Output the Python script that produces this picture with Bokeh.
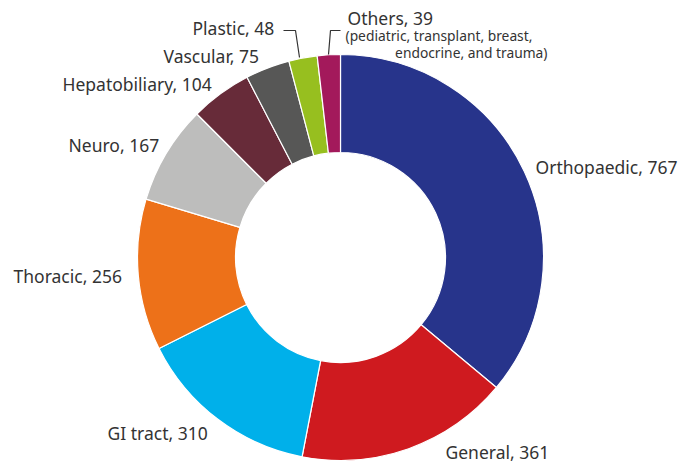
import numpy as np
from bokeh.plotting import figure
from bokeh.models import Range1d, ColumnDataSource
from bokeh.core.properties import value
from bokeh.embed import file_html
from bokeh.resources import INLINE

categories = ["Orthopaedic", "General", "GI tract", "Thoracic", "Neuro",
              "Hepatobiliary", "Vascular", "Plastic", "Others"]
counts = [767, 361, 310, 256, 167, 104, 75, 48, 39]
colors = ["#27348b", "#cf1a1f", "#00b0ea", "#ed7119", "#bdbdbc",
          "#672b39", "#575756", "#97bf1f", "#a3195b"]

W, H = 682, 463
p = figure(width=W, height=H, output_backend="svg", toolbar_location=None,
           x_range=Range1d(0, W), y_range=Range1d(0, H),
           min_border=0)
p.axis.visible = False
p.grid.visible = False
p.outline_line_color = None
p.background_fill_color = "white"
p.border_fill_color = "white"

def Y(py):
    return H - py

total = float(sum(counts))
cum = np.cumsum([0] + counts)
start = np.pi / 2 - 2 * np.pi * cum[:-1] / total
end = np.pi / 2 - 2 * np.pi * cum[1:] / total

src = ColumnDataSource(dict(cat=categories, val=counts, color=colors,
                            start=start, end=end))
cx, cy = 340, Y(257)
p.annular_wedge(x=cx, y=cy, inner_radius=105, outer_radius=203,
                start_angle="start", end_angle="end", direction="clock",
                fill_color="color", line_color="white", line_width=1.2,
                source=src)

font = value("Noto Sans")
tc = "#333333"
labels = [f"{c}, {v}" for c, v in zip(categories, counts)]
pos = [(535, 166, "left"), (445, 451, "left"), (107, 432, "left"),
       (13, 275, "left"), (68, 144, "left"), (62, 83, "left"),
       (163, 55, "left"), (192, 27, "left"), (347, 17, "left")]
for lab, (x, y, al) in zip(labels, pos):
    p.text(x=[x], y=[Y(y)], text=[lab], text_font=font, text_font_size="17.5px",
           text_color=tc, text_align=al, text_baseline="middle")

p.text(x=[345], y=[Y(35)], text=["(pediatric, transplant, breast,"],
       text_font=font, text_font_size="13.8px", text_color=tc,
       text_align="left", text_baseline="middle")
p.text(x=[547], y=[Y(52)], text=["endocrine, and trauma)"],
       text_font=font, text_font_size="13.8px", text_color=tc,
       text_align="right", text_baseline="middle")

p.line(x=[283, 295, 299], y=[Y(30), Y(30), Y(57)], line_color="#333333", line_width=1.2)
p.line(x=[340, 330, 328], y=[Y(30), Y(30), Y(54)], line_color="#333333", line_width=1.2)

open("out.html", "w").write(file_html(p, INLINE))
